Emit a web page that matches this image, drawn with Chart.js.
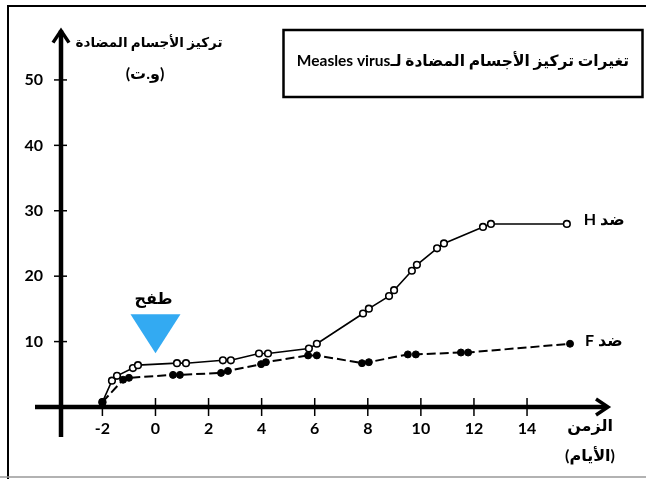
<!DOCTYPE html>
<html><head><meta charset="utf-8">
<script src="https://cdn.jsdelivr.net/npm/chart.js@4/dist/chart.umd.min.js"></script>
<style>html,body{margin:0;padding:0;background:#fff;}canvas{display:block;}</style>
</head><body>
<canvas id="c" width="646" height="479"></canvas>
<script>
// ---- data ----
const xTicks = [-2, 0, 2, 4, 6, 8, 10, 12, 14];
const yTicks = [10, 20, 30, 40, 50];

const antiH_x = [-2, -1.64, -1.45, -0.85, -0.66, 0.81, 1.15, 2.54, 2.84, 3.90, 4.24, 5.78, 6.08, 7.82, 8.04, 8.80, 8.99, 9.66, 9.85, 10.61, 10.87, 12.34, 12.64, 15.5];
const antiH_y = [0.74, 4.02, 4.76, 5.95, 6.40, 6.70, 6.70, 7.14, 7.14, 8.18, 8.18, 8.93, 9.67, 14.29, 15.03, 16.96, 17.86, 20.83, 21.73, 24.26, 25.0, 27.53, 27.98, 27.98];

const antiF_x = [-2, -1.22, -1.0, 0.66, 0.92, 2.47, 2.73, 3.98, 4.16, 5.75, 6.08, 7.78, 8.04, 9.51, 9.81, 11.51, 11.78, 15.62];
const antiF_y = [0.74, 4.17, 4.46, 4.91, 4.91, 5.21, 5.51, 6.55, 6.85, 7.89, 7.89, 6.70, 6.85, 8.04, 8.04, 8.33, 8.33, 9.67];

const rashDay = 0;
const rashTipLevel = 8.2;
const rashLabel = 'طفح';

const chartTitle = 'تغيرات تركيز الأجسام المضادة لـMeasles virus';
const yTitle = ['تركيز الأجسام المضادة', '(و.ت)'];
const xTitle = ['الزمن', '(الأيام)'];
const seriesNames = ['ضد F', 'ضد H'];

const FONT = "Lato, 'DejaVu Sans', sans-serif";

function fitFont(ctx, text, maxW, size) {
  let s = size;
  ctx.font = 'bold ' + s + 'px ' + FONT;
  while (ctx.measureText(text).width > maxW && s > 8) {
    s -= 0.5;
    ctx.font = 'bold ' + s + 'px ' + FONT;
  }
  return s;
}

const overlay = {
  id: 'overlay',
  beforeDatasetsDraw(chart) {
    const { ctx, chartArea, scales: { x, y } } = chart;
    const ax = chartArea.left;          // y axis position
    const ay = y.getPixelForValue(0);   // x axis position
    ctx.save();
    ctx.strokeStyle = '#000';
    ctx.lineCap = 'butt';
    // outer frame
    ctx.lineWidth = 2;
    ctx.beginPath();
    ctx.moveTo(8, 479); ctx.lineTo(8, 6); ctx.lineTo(646, 6);
    ctx.stroke();
    ctx.strokeStyle = '#999';
    ctx.lineWidth = 1.5;
    ctx.beginPath(); ctx.moveTo(0, 477); ctx.lineTo(646, 477); ctx.stroke();
    ctx.strokeStyle = '#000';
    // title box
    ctx.lineWidth = 2.5;
    ctx.strokeRect(283.5, 30, 359, 67);
    // y axis
    ctx.lineWidth = 4.5;
    ctx.beginPath(); ctx.moveTo(ax, ay + 30); ctx.lineTo(ax, chartArea.top + 3); ctx.stroke();
    ctx.lineWidth = 3.5;
    ctx.lineJoin = 'miter';
    ctx.beginPath();
    ctx.moveTo(ax - 8, chartArea.top + 15); ctx.lineTo(ax, chartArea.top + 3); ctx.lineTo(ax + 8, chartArea.top + 15);
    ctx.stroke();
    // x axis
    ctx.lineWidth = 4.5;
    ctx.beginPath(); ctx.moveTo(ax - 26, ay); ctx.lineTo(chartArea.right + 2, ay); ctx.stroke();
    ctx.lineWidth = 3.5;
    ctx.beginPath();
    ctx.moveTo(chartArea.right - 8, ay - 8); ctx.lineTo(chartArea.right + 4, ay); ctx.lineTo(chartArea.right - 8, ay + 8);
    ctx.stroke();
    // tick marks
    ctx.lineWidth = 1.5;
    yTicks.forEach(v => {
      const py = y.getPixelForValue(v);
      ctx.beginPath(); ctx.moveTo(ax - 7, py); ctx.lineTo(ax + 6, py); ctx.stroke();
    });
    xTicks.forEach(v => {
      const p = x.getPixelForValue(v);
      ctx.beginPath(); ctx.moveTo(p, ay - 9); ctx.lineTo(p, ay + 9); ctx.stroke();
    });
    // rash marker (triangle)
    const tx = x.getPixelForValue(rashDay);
    const ty = y.getPixelForValue(rashTipLevel);
    ctx.fillStyle = '#33aaf2';
    ctx.beginPath();
    ctx.moveTo(tx - 25, ty - 39); ctx.lineTo(tx + 25, ty - 39); ctx.lineTo(tx, ty);
    ctx.closePath(); ctx.fill();
    ctx.restore();
  },
  afterDraw(chart) {
    const { ctx, scales: { x, y } } = chart;
    ctx.save();
    ctx.fillStyle = '#000';
    ctx.textBaseline = 'middle';
    ctx.direction = 'rtl';
    ctx.textAlign = 'center';
    // title
    fitFont(ctx, chartTitle, 338, 17);
    ctx.fillText(chartTitle, 463, 61);
    // y title
    fitFont(ctx, yTitle[0], 150, 16);
    ctx.fillText(yTitle[0], 149, 43);
    ctx.font = 'bold 16px ' + FONT;
    ctx.fillText(yTitle[1], 145, 74);
    // x title
    ctx.fillText(xTitle[0], 590, 426);
    ctx.fillText(xTitle[1], 590, 456);
    // rash label
    const tx = x.getPixelForValue(rashDay);
    ctx.fillText(rashLabel, tx - 2, y.getPixelForValue(rashTipLevel) - 55);
    // series labels
    ctx.textAlign = 'left';
    ctx.font = 'bold 16px ' + FONT;
    const lastF = antiF_x.length - 1, lastH = antiH_x.length - 1;
    ctx.fillText(seriesNames[1], x.getPixelForValue(antiH_x[lastH]) + 17, y.getPixelForValue(antiH_y[lastH]) - 4);
    ctx.fillText(seriesNames[0], x.getPixelForValue(antiF_x[lastF]) + 15, y.getPixelForValue(antiF_y[lastF]) - 3);
    ctx.restore();
  }
};

const tickFont = { family: FONT, size: 16, weight: 'bold' };

new Chart(document.getElementById('c'), {
  type: 'scatter',
  data: {
    datasets: [
      {
        label: seriesNames[0],
        data: antiF_x.map((v, i) => ({ x: v, y: antiF_y[i] })),
        showLine: true,
        borderColor: '#000',
        borderWidth: 2,
        borderDash: [9, 4],
        pointRadius: 3.5,
        pointBackgroundColor: '#000',
        pointBorderColor: '#000',
        pointBorderWidth: 1,
        tension: 0
      },
      {
        label: seriesNames[1],
        data: antiH_x.map((v, i) => ({ x: v, y: antiH_y[i] })),
        showLine: true,
        borderColor: '#000',
        borderWidth: 1.6,
        pointRadius: 3.3,
        pointBackgroundColor: '#fff',
        pointBorderColor: '#000',
        pointBorderWidth: 1.6,
        tension: 0
      }
    ]
  },
  options: {
    responsive: false,
    animation: false,
    devicePixelRatio: 1,
    layout: { padding: { top: 18, right: 42, bottom: 0, left: 0 } },
    plugins: { legend: { display: false }, tooltip: { enabled: false } },
    scales: {
      x: {
        type: 'linear', min: -3.56, max: 16.9,
        grid: { display: false, drawTicks: false },
        border: { display: false },
        afterBuildTicks: s => { s.ticks = xTicks.map(v => ({ value: v })); },
        afterFit: s => { s.height = 72; },
        ticks: { padding: 12, color: '#000', font: tickFont, maxRotation: 0, autoSkip: false }
      },
      y: {
        type: 'linear', min: 0, max: 58,
        grid: { display: false, drawTicks: false },
        border: { display: false },
        afterBuildTicks: s => { s.ticks = yTicks.map(v => ({ value: v })); },
        afterFit: s => { s.width = 61; },
        ticks: { padding: 18, color: '#000', font: tickFont, autoSkip: false }
      }
    }
  },
  plugins: [overlay]
});
</script>
</body></html>
